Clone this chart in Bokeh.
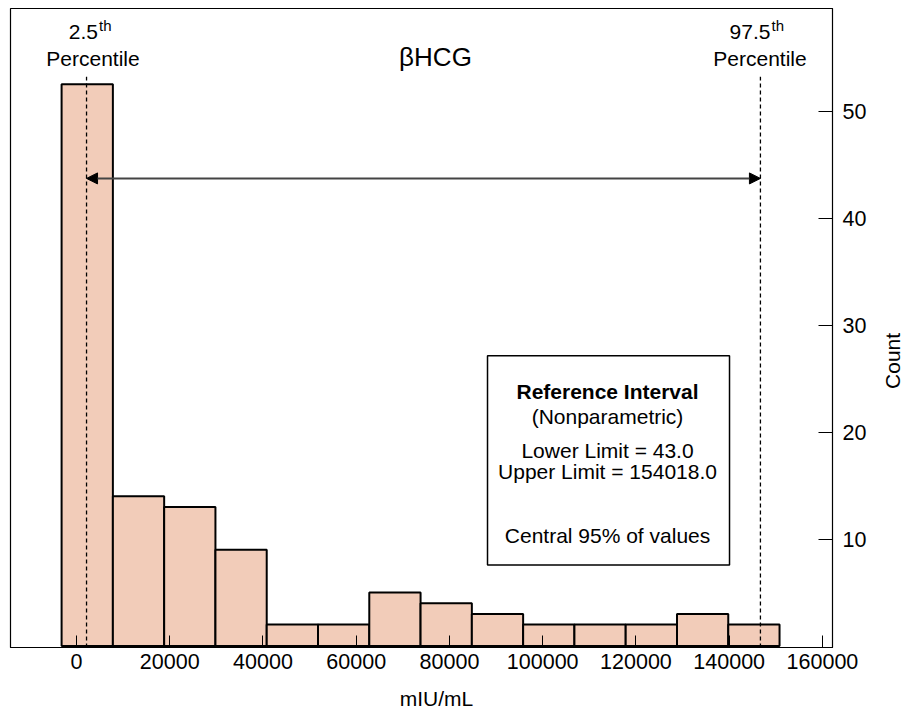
import math
from bokeh.plotting import figure
from bokeh.layouts import row, column
from bokeh.models import (Range1d, FixedTicker, BasicTickFormatter, Arrow,
                          NormalHead, Label, ColumnDataSource)
from bokeh.embed import file_html
from bokeh.resources import INLINE

# ---- data ----
bin_left = -3200
bin_width = 11000
counts = [52.5, 14, 13, 9, 2, 2, 5, 4, 3, 2, 2, 2, 3, 2]
x_ticks = [0, 20000, 40000, 60000, 80000, 100000, 120000, 140000, 160000]
y_ticks = [10, 20, 30, 40, 50]
pct_names = ["2.5", "97.5"]
pct_x = [2150, 146700]          # drawn percentile positions (mIU/mL)
arrow_y = 43.7
box_lines = ["Reference Interval", "(Nonparametric)", "Lower Limit = 43.0",
             "Upper Limit = 154018.0", "Central 95% of values"]
box_styles = ["bold", "normal", "normal", "normal", "normal"]

FONT = "Liberation Sans"
FS = "21px"
FS_TICK = "21.5px"
BAR_FILL = "#F2CCB9"

lefts = [bin_left + i * bin_width for i in range(len(counts))]
rights = [l + bin_width for l in lefts]

X0, X1 = -14160, 162160
Y0, Y1 = -0.14, 59.58
H = 710
H1 = 680          # main figure height
W1 = 876          # main figure width
W2 = 28           # side strip (y title)


def blank(fig):
    fig.outline_line_color = None
    fig.background_fill_color = "white"
    fig.border_fill_color = "white"
    fig.xgrid.visible = False
    fig.ygrid.visible = False


p = figure(frame_width=822, frame_height=639,
           x_range=Range1d(X0, X1), y_range=Range1d(Y0, Y1),
           y_axis_location="right", output_backend="svg",
           toolbar_location=None, min_border_left=10, min_border_top=8,
           min_border_right=W1 - 832, min_border_bottom=H1 - 647)
p.background_fill_color = "white"
p.border_fill_color = "white"
p.outline_line_color = "black"
p.outline_line_width = 1.2
p.xgrid.visible = False
p.ygrid.visible = False

xa = p.xaxis[0]
xa.ticker = FixedTicker(ticks=x_ticks)
xa.formatter = BasicTickFormatter(use_scientific=False)
xa.major_tick_in = 12
xa.major_tick_out = 0
xa.minor_tick_line_color = None
xa.axis_line_color = "black"
xa.major_tick_line_color = "black"
xa.major_label_text_font = FONT
xa.major_label_text_font_size = FS_TICK
xa.major_label_text_color = "black"
xa.major_label_standoff = 6

ya = p.yaxis[0]
ya.ticker = FixedTicker(ticks=y_ticks)
ya.major_tick_in = 14
ya.major_tick_out = 0
ya.minor_tick_line_color = None
ya.axis_line_color = "black"
ya.major_tick_line_color = "black"
ya.major_label_text_font = FONT
ya.major_label_text_font_size = FS_TICK
ya.major_label_text_color = "black"
ya.major_label_standoff = 10

# bars
p.quad(left=lefts, right=rights, bottom=0, top=counts,
       fill_color=BAR_FILL, line_color="black", line_width=2)

# percentile dashed lines
p.segment(x0=pct_x, y0=[Y0] * 2, x1=pct_x, y1=[53.2] * 2,
          line_color="black", line_width=1.3, line_dash="4 3")

# double arrow
p.add_layout(Arrow(start=NormalHead(size=11, fill_color="black", line_color="black"),
                   end=NormalHead(size=11, fill_color="black", line_color="black"),
                   x_start=pct_x[0], y_start=arrow_y, x_end=pct_x[1], y_end=arrow_y,
                   line_color="#444444", line_width=2))

# title
p.add_layout(Label(x=77000, y=55.03, text="\u03b2HCG", text_font=FONT,
                   text_font_size="26px", text_align="center",
                   text_baseline="alphabetic", text_color="black"))

# percentile labels
label_cx = [3540, 146600]
main_off = [5, 10.5]
for cx, name, off in zip(label_cx, pct_names, main_off):
    p.add_layout(Label(x=cx, y=54.94, text="Percentile", text_font=FONT,
                       text_font_size=FS, text_align="center",
                       text_baseline="alphabetic", text_color="black"))
    p.add_layout(Label(x=cx, y=57.35, x_offset=off, text=name, text_font=FONT,
                       text_font_size=FS, text_align="right",
                       text_baseline="alphabetic", text_color="black"))
    p.add_layout(Label(x=cx, y=58.0, x_offset=off + 1, text="th", text_font=FONT,
                       text_font_size="15px", text_align="left",
                       text_baseline="alphabetic", text_color="black"))

# reference interval box
p.quad(left=[88160], right=[140070], bottom=[7.58], top=[27.12],
       fill_color="white", line_color="black", line_width=1.5)
src = ColumnDataSource(dict(x=[113900] * 5, y=[23.76, 21.44, 18.25, 16.30, 10.35],
                            t=box_lines, s=box_styles))
p.text(x="x", y="y", text="t", text_font_style="s", source=src,
       text_font={"value": FONT}, text_font_size={"value": FS},
       text_align="center", text_baseline="alphabetic", text_color="black")

# y axis title in a narrow side strip (reads bottom-to-top)
p2 = figure(width=W2, height=H1, x_range=Range1d(0, W2), y_range=Range1d(0, H1),
            x_axis_type=None, y_axis_type=None, output_backend="svg",
            toolbar_location=None, min_border=0)
blank(p2)
p2.add_layout(Label(x=16, y=H1 - 375, text="Count", text_font=FONT,
                    text_font_size=FS, text_align="center", angle=math.pi / 2,
                    text_baseline="middle", text_color="black"))

# x axis title in a strip below
H3 = H - H1
p3 = figure(width=W1 + W2, height=H3, x_range=Range1d(0, W1 + W2),
            y_range=Range1d(0, H3), x_axis_type=None, y_axis_type=None,
            output_backend="svg", toolbar_location=None, min_border=0)
blank(p3)
p3.add_layout(Label(x=436, y=12, text="mIU/mL", text_font=FONT,
                    text_font_size=FS, text_align="center",
                    text_baseline="alphabetic", text_color="black"))

layout = column(row(p, p2, spacing=0), p3, spacing=0)
open("out.html", "w").write(file_html(layout, INLINE))
